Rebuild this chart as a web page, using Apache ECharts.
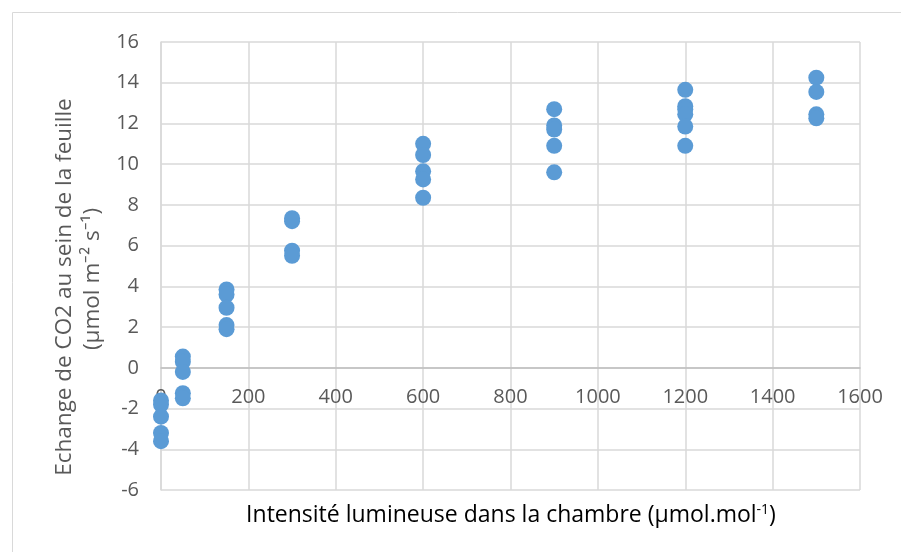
<!DOCTYPE html>
<html>
<head>
<meta charset="utf-8">
<script src="https://cdn.jsdelivr.net/npm/echarts@6/dist/echarts.min.js"></script>
<style>
  html, body { margin: 0; padding: 0; background: #fff; }
  #chart { width: 901px; height: 552px; }
</style>
</head>
<body>
<div id="chart"></div>
<script>
// intensités lumineuses mesurées
var lightLevels = [0, 50, 150, 300, 600, 900, 1200, 1500];
// échange de CO2 pour chaque intensité (répétitions)
var co2At0 = [-1.6, -1.8, -2.4, -3.2, -3.6];
var co2At50 = [0.55, 0.3, -0.2, -1.25, -1.5];
var co2At150 = [3.85, 3.6, 2.95, 2.1, 1.9];
var co2At300 = [7.35, 7.2, 5.75, 5.5];
var co2At600 = [11.0, 10.45, 9.65, 9.25, 8.35];
var co2At900 = [12.7, 11.9, 11.7, 10.9, 9.6];
var co2At1200 = [13.65, 12.85, 12.7, 12.45, 11.85, 10.9];
var co2At1500 = [14.25, 13.55, 12.45, 12.25];
var xTicks = [0, 200, 400, 600, 800, 1000, 1200, 1400, 1600];
var yTicks = [-6, -4, -2, 0, 2, 4, 6, 8, 10, 12, 14, 16];

var groups = [co2At0, co2At50, co2At150, co2At300, co2At600, co2At900, co2At1200, co2At1500];
var points = [];
groups.forEach(function (vals, i) {
    vals.forEach(function (v) {
        points.push([lightLevels[i], v]);
    });
});

var grey = '#595959';
var myChart = echarts.init(document.getElementById('chart'));
myChart.setOption({
    animation: false,
    textStyle: { fontFamily: 'Open Sans' },
    grid: { left: 161, right: 41, top: 42, bottom: 62 },
    xAxis: {
        type: 'value',
        min: xTicks[0],
        max: xTicks[xTicks.length - 1],
        interval: 200,
        axisLine: { onZero: true, lineStyle: { color: '#bfbfbf', width: 1.5 } },
        axisTick: { show: false },
        // les étiquettes sont au niveau de y = 0 comme dans Excel
        axisLabel: { color: grey, fontSize: 20, margin: -103, formatter: function (v) { return String(v); } },
        splitLine: { lineStyle: { color: '#d9d9d9', width: 1.5 } }
    },
    yAxis: {
        type: 'value',
        min: yTicks[0],
        max: yTicks[yTicks.length - 1],
        interval: 2,
        axisLine: { show: true, onZero: false, lineStyle: { color: '#d9d9d9', width: 1.5 } },
        axisTick: { show: false },
        axisLabel: { color: grey, fontSize: 20, margin: 22 },
        splitLine: { lineStyle: { color: '#d9d9d9', width: 1.5 } }
    },
    series: [{
        type: 'scatter',
        symbol: 'circle',
        symbolSize: 16,
        itemStyle: { color: '#5b9bd5', opacity: 1 },
        data: points
    }],
    graphic: [
        {
            type: 'rect',
            shape: { x: 12.5, y: 12.5, width: 900, height: 560 },
            style: { fill: 'none', stroke: '#d9d9d9', lineWidth: 1 },
            z: -1
        },
        {
            type: 'text',
            x: 65, y: 287,
            rotation: Math.PI / 2,
            style: {
                text: 'Echange de CO2 au sein de la feuille',
                fill: grey, font: '22.5px "Open Sans"',
                align: 'center', verticalAlign: 'middle'
            }
        },
        {
            type: 'text',
            x: 93, y: 279,
            rotation: Math.PI / 2,
            style: {
                text: '(\u00b5mol m\u207b\u00b2 s\u207b\u00b9)',
                fill: grey, font: '22.5px "Open Sans"',
                align: 'center', verticalAlign: 'middle'
            }
        },
        {
            type: 'text',
            x: 511, y: 515,
            style: {
                text: '{a|Intensit\u00e9 lumineuse dans la chambre (\u00b5mol.mol}{s|-1}{a|)}',
                align: 'center', verticalAlign: 'middle',
                rich: {
                    a: { fontSize: 23, fontFamily: 'Open Sans', color: grey },
                    s: { fontSize: 14, fontFamily: 'Open Sans', color: grey, verticalAlign: 'top', padding: [0, 0, 10, 0] }
                }
            }
        }
    ]
});
</script>
</body>
</html>
